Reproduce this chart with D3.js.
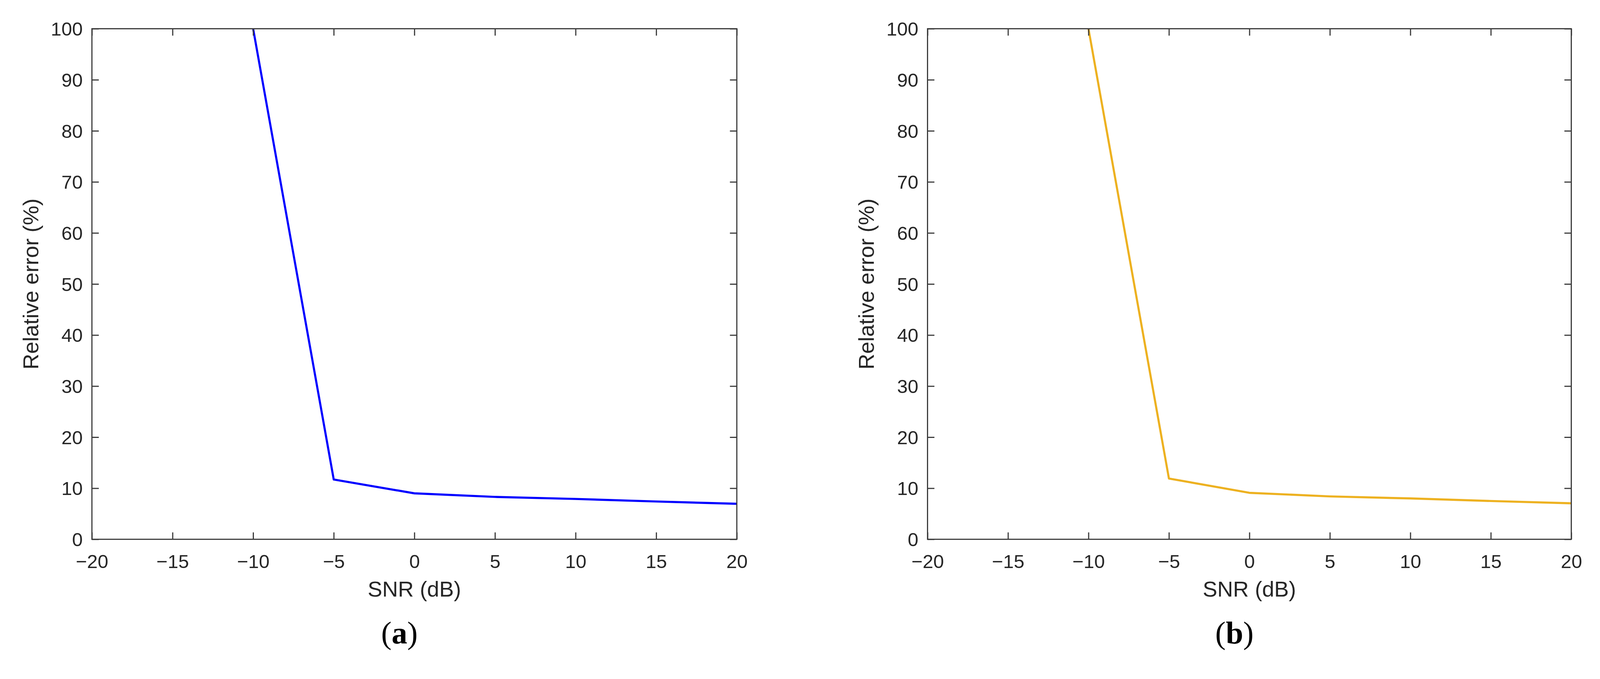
<!DOCTYPE html>
<meta charset="utf-8">
<style>
  html, body { margin: 0; padding: 0; width: 100%; height: 100%; overflow: hidden; background: #fff; }
  #my_dataviz { width: 100%; height: 100%; }
  svg { display: block; }
  svg text { font-family: "Liberation Sans", Arial, sans-serif; fill: #262626; }
</style>

<!-- Load d3.js -->
<script src="https://d3js.org/d3.v7.min.js"></script>

<div id="my_dataviz"></div>

<script>
// SNR values (dB) and relative error (%) for the two panels
var snr = [-10, -5, 0, 5, 10, 15, 20];
var errorA = [100, 11.7, 9.0, 8.3, 7.9, 7.4, 6.95];
var errorB = [100, 11.9, 9.1, 8.4, 8.0, 7.5, 7.05];

// Axis ticks
var xTicks = [-20, -15, -10, -5, 0, 5, 10, 15, 20];
var yTicks = [0, 10, 20, 30, 40, 50, 60, 70, 80, 90, 100];

var panels = [
  {id: "a", values: errorA, color: "#0000FF", left: 240, right: 1924},
  {id: "b", values: errorB, color: "#EDB120", left: 2422, right: 4103}
];

var W = 4178, H = 1738;
var plotTop = 75, plotBottom = 1408;
var axisColor = "#3a3a3a";
var tickLen = 18;

// viewBox keeps the whole figure inside the viewport whatever its exact size
var svg = d3.select("#my_dataviz")
  .append("svg")
    .attr("width", "100%")
    .attr("height", "100%")
    .attr("viewBox", "0 0 " + W + " " + H)
    .attr("preserveAspectRatio", "xMinYMin meet");

panels.forEach(function(p) {
  var x = d3.scaleLinear().domain([-20, 20]).range([p.left, p.right]);
  var y = d3.scaleLinear().domain([0, 100]).range([plotBottom, plotTop]);
  var g = svg.append("g");

  // clip the line to the plot box
  g.append("clipPath")
    .attr("id", "clip-" + p.id)
    .append("rect")
      .attr("x", p.left).attr("y", plotTop)
      .attr("width", p.right - p.left).attr("height", plotBottom - plotTop);

  var pts = snr.map(function(s, i) { return [s, p.values[i]]; });
  g.append("path")
    .datum(pts)
    .attr("clip-path", "url(#clip-" + p.id + ")")
    .attr("fill", "none")
    .attr("stroke", p.color)
    .attr("stroke-width", 5.5)
    .attr("stroke-linejoin", "round")
    .attr("d", d3.line()
      .x(function(d) { return x(d[0]); })
      .y(function(d) { return y(d[1]); }));

  // bottom axis (ticks pointing inside)
  var xAxis = g.append("g")
    .attr("transform", "translate(0," + plotBottom + ")")
    .call(d3.axisBottom(x).tickValues(xTicks).tickSizeInner(-tickLen).tickSizeOuter(0));
  xAxis.selectAll("text").attr("dy", null).attr("y", 75).style("font-size", "50px").style("fill", "#262626");

  // top axis, ticks only
  g.append("g")
    .attr("transform", "translate(0," + plotTop + ")")
    .call(d3.axisTop(x).tickValues(xTicks).tickSizeInner(-tickLen).tickSizeOuter(0).tickFormat(""));

  // left axis
  var yAxis = g.append("g")
    .attr("transform", "translate(" + p.left + ",0)")
    .call(d3.axisLeft(y).tickValues(yTicks).tickSizeInner(-tickLen).tickSizeOuter(0));
  yAxis.selectAll("text").attr("x", -24).attr("dy", "0.35em").style("font-size", "50px").style("fill", "#262626");

  // right axis, ticks only
  g.append("g")
    .attr("transform", "translate(" + p.right + ",0)")
    .call(d3.axisRight(y).tickValues(yTicks).tickSizeInner(-tickLen).tickSizeOuter(0).tickFormat(""));

  g.selectAll(".domain").remove();
  g.selectAll(".tick line").attr("stroke", axisColor).attr("stroke-width", 3);
  g.selectAll(".tick text").attr("font-family", null);

  // box
  g.append("rect")
    .attr("x", p.left).attr("y", plotTop)
    .attr("width", p.right - p.left).attr("height", plotBottom - plotTop)
    .attr("fill", "none")
    .attr("stroke", axisColor)
    .attr("stroke-width", 3);

  // axis labels
  var cx = (p.left + p.right) / 2;
  g.append("text")
    .attr("x", cx)
    .attr("y", 1558)
    .attr("text-anchor", "middle")
    .style("font-size", "57px")
    .text("SNR (dB)");

  g.append("text")
    .attr("transform", "translate(" + (p.left - 140) + "," + ((plotTop + plotBottom) / 2) + ") rotate(-90)")
    .attr("text-anchor", "middle")
    .style("font-size", "57px")
    .text("Relative error (%)");

  // panel caption
  var cap = g.append("text")
    .attr("x", cx - 39)
    .attr("y", 1680)
    .attr("text-anchor", "middle")
    .style("font-family", "'Liberation Serif', 'Times New Roman', serif")
    .style("font-size", "82px")
    .style("fill", "#000");
  cap.append("tspan").text("(");
  cap.append("tspan").style("font-weight", "bold").text(p.id);
  cap.append("tspan").text(")");
});
</script>
